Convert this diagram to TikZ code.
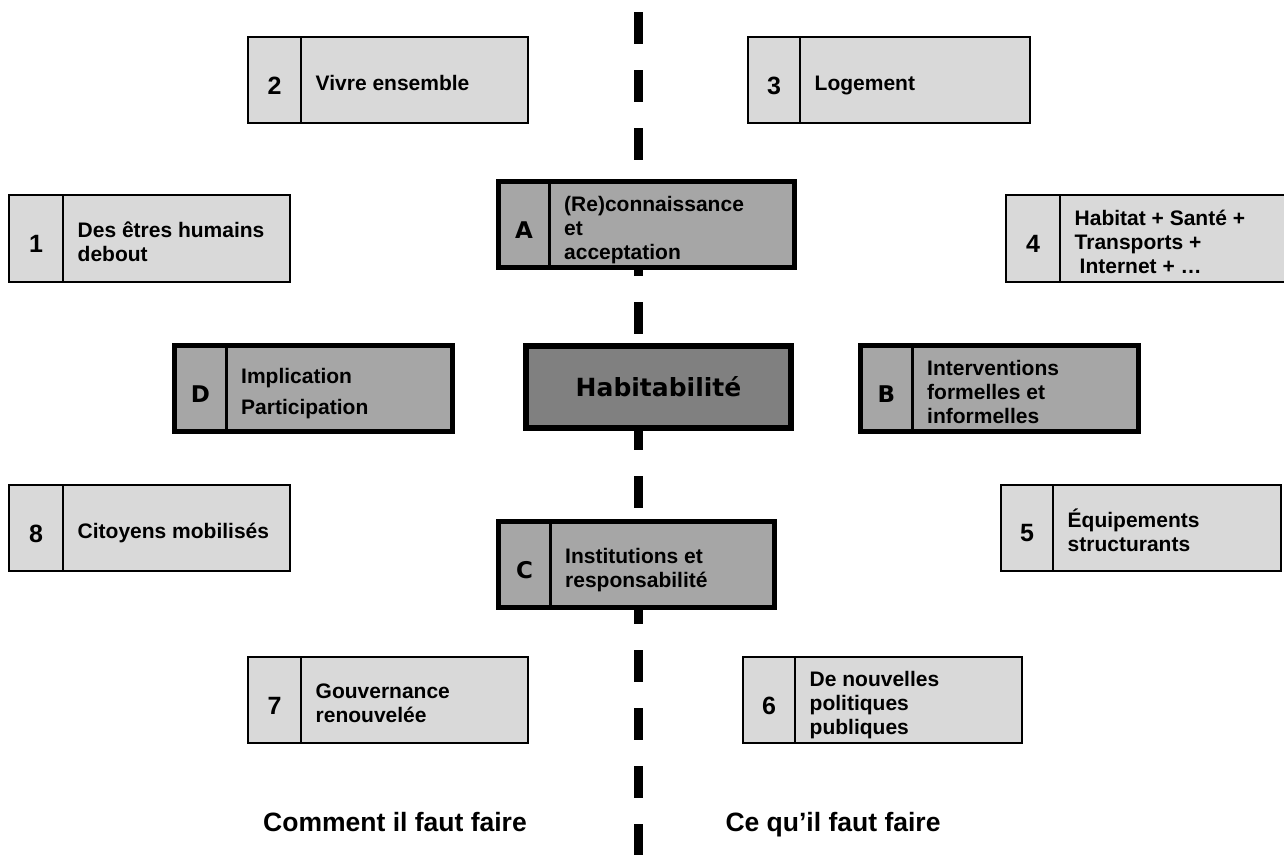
\documentclass[tikz,border=0pt]{standalone}
\usepackage{fontspec}
\setmainfont{Liberation Sans}
\newfontfamily\lettrefont{DejaVu Sans}
\usetikzlibrary{calc, positioning}
\definecolor{clair}{HTML}{D9D9D9}
\definecolor{moyen}{HTML}{A6A6A6}
\definecolor{fonce}{HTML}{808080}

\begin{document}
\begin{tikzpicture}[x=1pt, y=-1pt, font=\bfseries,
	cadre/.style={draw, fill=clair, line width=2.5pt, inner sep=0pt, outer sep=0pt, anchor=north west},
	cadrefort/.style={cadre, fill=moyen, line width=5pt},
	chiffre/.style={font=\fontsize{25}{25}\selectfont\bfseries, inner sep=0pt},
	texte/.style={font=\fontsize{21}{24}\selectfont\bfseries, align=left, inner sep=0pt, anchor=west},
	titre/.style={font=\fontsize{26.5}{30}\selectfont\bfseries, inner sep=0pt, anchor=base},
	separation/.style={line width=9pt, dash pattern=on 32pt off 26pt}]
	% name, style, x, y, width, height, number column, number, text
	\def\boite#1#2#3#4#5#6#7#8#9{%
		\node[#2, minimum width=#5, minimum height=#6] (#1) at (#3,#4) {};
		\draw[line width=2.5pt]	($(#1.north west)+(#7,0)$) -- ($(#1.south west)+(#7,0)$);
		\node[chiffre] (#1n) at ($(#1.north west)+(#7/2,#6/2+5.5)$) {#8};
		\node[texte] (#1t) at ($(#1.north west)+(#7+14.5,#6/2+6)$) {\strut#9\strut};
	}

	\useasboundingbox (0,0) rectangle (1284,854);
	\fill[white] (0,0) rectangle (1284,854);
	\clip (0,0) rectangle (1284,854);

	% dividing line
	\coordinate (haut) at (638.5,12);
	\coordinate (bas) at (638.5,870);
	\draw[separation] (haut) -- (bas);

	\boite{b2}{cadre}{248}{37}{280}{86}{53}{2}{Vivre ensemble}
	\boite{b3}{cadre}{748}{37}{282}{86}{52}{3}{Logement}
	\boite{b1}{cadre}{9}{195}{281}{87}{54}{1}{Des êtres humains\\debout}
	\boite{bA}{cadrefort}{498.5}{181.5}{296}{86}{51}{\lettrefont\fontsize{23}{23}\selectfont A}{(Re)connaissance\\et\\acceptation}
	\boite{b4}{cadre}{1006}{195}{290}{87}{54}{4}{Habitat + Santé +\\Transports +\\\hspace{5pt}Internet + …}
	\boite{bD}{cadrefort}{174.5}{345.5}{278}{86}{52}{\lettrefont\fontsize{23}{23}\selectfont D}{Implication\\[7pt]Participation}
	\boite{bB}{cadrefort}{860.5}{345.5}{278}{86}{52}{\lettrefont\fontsize{23}{23}\selectfont B}{Interventions\\formelles et\\informelles}
	\boite{b8}{cadre}{9}{485}{281}{86}{54}{8}{Citoyens mobilisés}
	\boite{bC}{cadrefort}{498.5}{521.5}{276}{86}{52}{\lettrefont\fontsize{23}{23}\selectfont C}{Institutions et\\responsabilité}
	\boite{b5}{cadre}{1001}{485}{280}{86}{52}{5}{Équipements\\structurants}
	\boite{b7}{cadre}{248}{657}{280}{86}{53}{7}{Gouvernance\\renouvelée}
	\boite{b6}{cadre}{743}{657}{279}{86}{52}{6}{De nouvelles\\politiques\\publiques}

	\node[cadrefort, fill=fonce, line width=6pt, minimum width=265, minimum height=82, font=\lettrefont\fontsize{25}{25}\selectfont\bfseries] (hab) at (526,346) {Habitabilité};

	\node[titre] (comment) at (395,831) {Comment il faut faire};
	\node[titre] (quoi) at (833,831) {Ce qu’il faut faire};
\end{tikzpicture}
\end{document}
